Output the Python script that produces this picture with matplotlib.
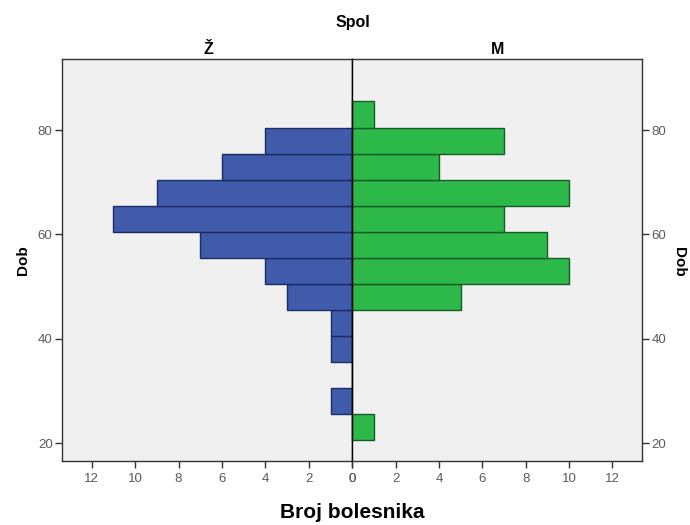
import matplotlib
matplotlib.use("Agg")
import matplotlib.pyplot as plt

# Data (age bins, lower edges; width 5 years)
bin_lower = [20.5, 25.5, 30.5, 35.5, 40.5, 45.5, 50.5, 55.5, 60.5, 65.5, 70.5, 75.5, 80.5]
zene = [0, 1, 0, 1, 1, 3, 4, 7, 11, 9, 6, 4, 0]
muski = [1, 0, 0, 0, 0, 5, 10, 9, 7, 10, 4, 7, 1]
bin_width = 5
x_ticks = [0, 2, 4, 6, 8, 10, 12]
y_ticks = [20, 40, 60, 80]

tick_font = ['Liberation Sans Narrow', 'Liberation Sans', 'DejaVu Sans']
bold_font = ['Liberation Sans', 'DejaVu Sans']

fig = plt.figure(figsize=(6.9, 5.25), dpi=100)
W, H = 690, 525
def rect(x0, x1, y0, y1):
    return [x0 / W, 1 - y1 / H, (x1 - x0) / W, (y1 - y0) / H]

axL = fig.add_axes(rect(62.3, 352.3, 58.7, 461))
axR = fig.add_axes(rect(352.3, 641.7, 58.7, 461))

bg = '#F0F0F0'
blue, blue_e = '#3F5BAA', '#1E2C66'
green, green_e = '#2DB84A', '#185C25'

for ax in (axL, axR):
    ax.set_facecolor(bg)
    ax.set_ylim(16.55, 93.7)
    ax.set_xlim(0, 13.35)
    ax.set_xticks(x_ticks)
    ax.set_yticks(y_ticks)
    ax.tick_params(axis='both', direction='out', length=5, width=1, colors='#333333',
                   labelcolor='#5a5a5a', labelsize=9.5)
    for lab in ax.get_xticklabels() + ax.get_yticklabels():
        lab.set_family(tick_font)
    for s in ax.spines.values():
        s.set_color('#333333')
        s.set_linewidth(1)

axL.barh(bin_lower, zene, height=bin_width, align='edge', color=blue,
         edgecolor=blue_e, linewidth=1, zorder=2)
axR.barh(bin_lower, muski, height=bin_width, align='edge', color=green,
         edgecolor=green_e, linewidth=1, zorder=2)

axL.invert_xaxis()
axL.spines['right'].set_color('black')
axR.spines['left'].set_color('black')
axR.tick_params(axis='y', left=False, labelleft=False, right=True, labelright=True, pad=2)
axL.tick_params(axis='y', pad=2)
axL.tick_params(axis='x', pad=4)
axR.tick_params(axis='x', pad=4)
for lab in axR.get_yticklabels():
    lab.set_family(tick_font)

fig.text(353 / W, 1 - 22 / H, 'Spol', ha='center', va='center', fontsize=11.5,
         fontweight='bold', family=bold_font)
fig.text(208 / W, 1 - 50 / H, 'Ž', ha='center', va='center', fontsize=11.5,
         fontweight='bold', family=bold_font)
fig.text(498 / W, 1 - 50 / H, 'M', ha='center', va='center', fontsize=11.5,
         fontweight='bold', family=bold_font)
fig.text(352 / W, 1 - 513 / H, 'Broj bolesnika', ha='center', va='center', fontsize=15,
         fontweight='bold', family=bold_font)
fig.text(23 / W, 1 - 260 / H, 'Dob', ha='center', va='center', fontsize=11,
         fontweight='bold', rotation=90, family=bold_font)
fig.text(679 / W, 1 - 262 / H, 'Dob', ha='center', va='center', fontsize=11,
         fontweight='bold', rotation=270, family=bold_font)

fig.savefig('out.png', dpi=100)
